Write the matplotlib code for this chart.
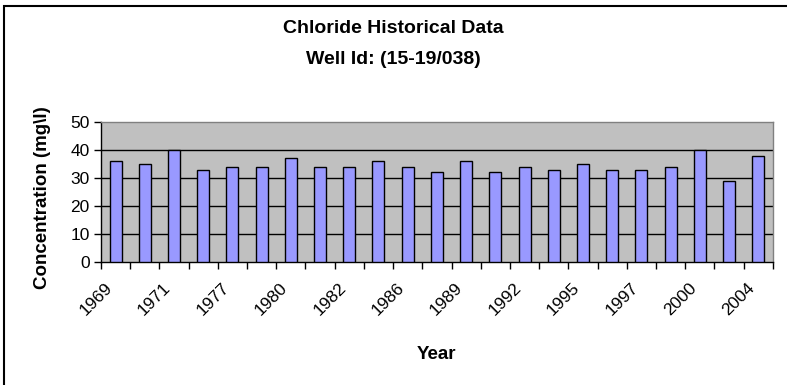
import numpy as np
import matplotlib
matplotlib.use('Agg')
import matplotlib.pyplot as plt
from matplotlib.patches import Rectangle
from matplotlib.transforms import ScaledTranslation

plt.rcParams['font.family'] = ['Liberation Sans', 'DejaVu Sans']

# chloride readings per sample, labels only on every other sample
year_labels = ['1969', '', '1971', '', '1977', '', '1980', '', '1982', '', '1986', '',
               '1989', '', '1992', '', '1995', '', '1997', '', '2000', '', '2004']
chloride = [36, 35, 40, 33, 34, 34, 37, 34, 34, 36, 34, 32,
            36, 32, 34, 33, 35, 33, 33, 34, 40, 29, 38]
yticks = [0, 10, 20, 30, 40, 50]

fig = plt.figure(figsize=(7.87, 3.85), dpi=100)
ax = fig.add_axes([0.1283, 0.3195, 0.8537, 0.3635])

x = np.arange(len(chloride))
ax.set_facecolor('#C0C0C0')
ax.bar(x, chloride, width=0.41, color='#9999FF', edgecolor='black', linewidth=1.0, zorder=3)

ax.set_ylim(0, 50)
ax.set_xlim(-0.5, len(chloride) - 0.5)
ax.set_yticks(yticks)
ax.set_yticklabels([str(t) for t in yticks], fontsize=12.5)
for t in yticks[1:-1]:
    ax.axhline(t, color='black', linewidth=1.0, zorder=1)

ax.set_xticks(x)
ax.set_xticklabels(year_labels, rotation=45, ha='right', rotation_mode='anchor', fontsize=12.5)
ax.tick_params(axis='x', which='major', length=0, pad=13)
ax.set_xticks(np.arange(-0.5, len(chloride), 1), minor=True)
ax.tick_params(axis='x', which='minor', length=5, width=1, color='black')
ax.tick_params(axis='y', length=5, width=1, color='black', pad=3)

# nudge the year labels a little to the left of the bar centres
shift = ScaledTranslation(-11 / 100, 0, fig.dpi_scale_trans)
for lbl in ax.get_xticklabels():
    lbl.set_transform(lbl.get_transform() + shift)

ax.spines['left'].set_color('black')
ax.spines['bottom'].set_color('black')
ax.spines['top'].set_color('#808080')
ax.spines['right'].set_color('#808080')
for s in ax.spines.values():
    s.set_linewidth(1.0)

ax.set_ylabel('Concentration (mg\\l)', fontsize=13.5, fontweight='bold')
ax.yaxis.set_label_coords(-0.074, 0.46)
ax.set_xlabel('Year', fontsize=13.5, fontweight='bold')
ax.xaxis.set_label_coords(0.5, -0.6)

fig.text(0.5, 0.925, 'Chloride Historical Data', ha='center', va='center',
         fontsize=14, fontweight='bold')
fig.text(0.5, 0.845, 'Well Id: (15-19/038)', ha='center', va='center',
         fontsize=14, fontweight='bold')

# chart frame, cut off at right and bottom
fig.patches.append(Rectangle((4 / 787, -0.1), 1.2, 1.1 - 6 / 385, transform=fig.transFigure,
                             fill=False, edgecolor='black', linewidth=1.5))

fig.savefig('out.png', dpi=100)
